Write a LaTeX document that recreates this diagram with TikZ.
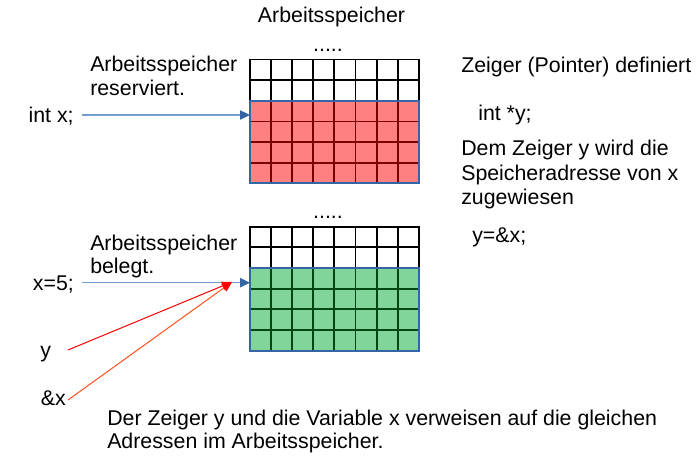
\documentclass[tikz,border=0pt]{standalone}
\usepackage{fontspec}
\setmainfont{Liberation Sans}
\usetikzlibrary{arrows.meta}
\definecolor{memred}{RGB}{255,128,128}
\definecolor{memgreen}{RGB}{129,212,154}
\definecolor{linered}{RGB}{120,0,0}
\definecolor{linegreen}{RGB}{0,70,20}
\definecolor{ptrblue}{RGB}{52,101,164}
\definecolor{ptrlight}{RGB}{114,159,207}
\definecolor{ptrred}{RGB}{255,0,0}
\definecolor{ptrorange}{RGB}{255,80,30}

\begin{document}
\begin{tikzpicture}[x=0.75pt, y=-0.75pt,
        txt/.style={anchor=base west, inner sep=0pt, font=\fontsize{16}{18}\selectfont},
        ctxt/.style={txt, anchor=base},
        cell/.style={line width=1.4pt},
        toblock/.style={ptrlight, line width=0.9pt, -{Triangle[length=7.5pt, width=7pt, color=ptrblue]}},
        ptrline/.style={line width=0.75pt, -{Triangle[length=7.5pt, width=6.5pt, color=ptrred]}}]
    \useasboundingbox (0,0) rectangle (700,460);

    \pgfmathsetmacro{\gridL}{250}
    \pgfmathsetmacro{\cellW}{21.1}
    \pgfmathsetmacro{\cellH}{20.65}
    \pgfmathsetmacro{\gridR}{\gridL+8*\cellW}

    % two memory blocks: white free rows on top, used rows below
    \foreach \top/\fillc/\linec in {59.5/memred/linered, 226.7/memgreen/linegreen}{
            \fill[\fillc] (\gridL, {\top+2*\cellH}) rectangle (\gridR, {\top+6*\cellH});
            \foreach \i in {1,...,7}{
                    \draw[cell, black] ({\gridL+\i*\cellW}, \top) -- ({\gridL+\i*\cellW}, {\top+2*\cellH});
                    \draw[cell, \linec] ({\gridL+\i*\cellW}, {\top+2*\cellH}) -- ({\gridL+\i*\cellW}, {\top+6*\cellH});
                }
            \foreach \j in {3, 4, 5}
            \draw[cell, \linec] (\gridL, {\top+\j*\cellH}) -- (\gridR, {\top+\j*\cellH});
            \draw[cell, black] (\gridL, {\top+2*\cellH}) -- (\gridL, \top) -- (\gridR, \top) -- (\gridR, {\top+2*\cellH});
            \draw[cell, black] (\gridL, {\top+\cellH}) -- (\gridR, {\top+\cellH});
            \draw[cell, ptrblue] (\gridL, {\top+2*\cellH}) rectangle (\gridR, {\top+6*\cellH});
        }

    % texts above and beside the blocks
    \node[ctxt] (title) at (331.5, 22.7) {Arbeitsspeicher};
    \node[ctxt] (dotsA) at (328, 51.7) {.....};
    \node[ctxt] (dotsB) at (328, 218.9) {.....};

    \node[txt] (resA) at (90, 71.7) {Arbeitsspeicher};
    \node[txt] (resB) at (90, 95.5) {reserviert.};
    \node[txt] (intx) at (28.3, 122.7) {int x;};

    \node[txt] (belA) at (90, 250) {Arbeitsspeicher};
    \node[txt] (belB) at (90, 273.5) {belegt.};
    \node[txt] (setx) at (32.7, 290) {x=5;};
    \node[txt] (yvar) at (40, 357) {y};
    \node[txt] (addrx) at (40.7, 405) {\&x};

    \node[txt] (zeig) at (461, 72.7) {Zeiger (Pointer) definiert};
    \node[txt] (decl) at (478, 120) {int *y;};
    \node[txt] (demA) at (461, 156) {Dem Zeiger y wird die};
    \node[txt] (demB) at (461, 180) {Speicheradresse von x};
    \node[txt] (demC) at (461, 204) {zugewiesen};
    \node[txt] (assign) at (472, 242) {y=\&x;};

    \node[txt] (sumA) at (107, 425) {Der Zeiger y und die Variable x verweisen auf die gleichen};
    \node[txt] (sumB) at (107, 448) {Adressen im Arbeitsspeicher.};

    % connectors
    \coordinate (intxOut) at (82, 115);
    \coordinate (setxOut) at (82, 282.7);
    \coordinate (yOut) at (68, 350);
    \coordinate (addrOut) at (68, 400);
    \coordinate (inA) at (\gridL, 115);
    \coordinate (inB) at (\gridL, 282.7);
    \coordinate (ptr) at (232, 282);

    \draw[toblock] (intxOut) -- (inA);
    \draw[toblock] (setxOut) -- (inB);
    \draw[ptrline, ptrorange] (addrOut) -- (ptr);
    \draw[ptrline, ptrred] (yOut) -- (ptr);
\end{tikzpicture}
\end{document}
